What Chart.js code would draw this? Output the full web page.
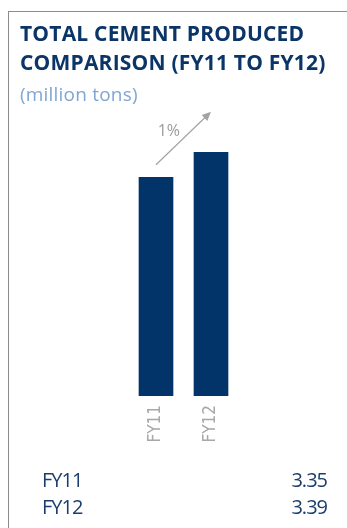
<!DOCTYPE html>
<html>
<head>
<meta charset="utf-8">
<script src="https://cdn.jsdelivr.net/npm/chart.js@4"></script>
<style>
  html, body { margin: 0; padding: 0; background: #ffffff; }
  body { width: 347px; height: 528px; position: relative; overflow: hidden; font-family: "Open Sans", sans-serif; }
  #frame { position: absolute; left: 8px; top: 11px; right: -2px; bottom: -2px; border-left: 1.5px solid #8c8c8c; border-top: 1.5px solid #8c8c8c; }
  #title { position: absolute; left: 20px; top: 19px; margin: 0; font-weight: 700; font-size: 21px; letter-spacing: 0.2px; line-height: 29px; color: #0b3467; white-space: nowrap; }
  #subtitle { position: absolute; left: 20px; top: 81px; font-size: 19px; letter-spacing: 0.2px; line-height: 26px; color: #7fa6d4; }
  #chartBox { position: absolute; left: 0; top: 0; width: 347px; height: 528px; }
  #table { position: absolute; left: 42px; top: 466px; width: 285px; }
  .row { display: flex; justify-content: space-between; font-size: 20px; line-height: 27px; color: #1b3d6d; letter-spacing: -1px; }
</style>
</head>
<body>
<div id="frame"></div>
<div id="chartBox"><canvas id="chart" width="347" height="528"></canvas></div>
<h1 id="title">TOTAL CEMENT PRODUCED<br>COMPARISON (FY11 TO FY12)</h1>
<div id="subtitle">(million tons)</div>
<div id="table"></div>
<script>
// Fiscal years and total cement produced (million tons)
const categories = ["FY11", "FY12"];
const cementProduced = [3.35, 3.39];
const valueLabels = ["3.35", "3.39"];

// value table under the chart
const table = document.getElementById("table");
categories.forEach((cat, i) => {
  const row = document.createElement("div");
  row.className = "row";
  const a = document.createElement("span");
  a.textContent = cat;
  const b = document.createElement("span");
  b.textContent = valueLabels[i];
  row.appendChild(a);
  row.appendChild(b);
  table.appendChild(row);
});

// growth arrow between the two bar tops with a percentage label
const growthArrow = {
  id: "growthArrow",
  afterDatasetsDraw(chart) {
    const x = chart.scales.x, y = chart.scales.y, ctx = chart.ctx;
    const x0 = x.getPixelForValue(0), x1 = x.getPixelForValue(1);
    const y0 = y.getPixelForValue(cementProduced[0]) - 12.5;
    const y1 = y.getPixelForValue(cementProduced[1]) - 40.5;
    const ang = Math.atan2(y1 - y0, x1 - x0);
    const head = 9, half = 4;
    ctx.save();
    ctx.strokeStyle = "#a3a3a3";
    ctx.fillStyle = "#a3a3a3";
    ctx.lineWidth = 1.2;
    ctx.beginPath();
    ctx.moveTo(x0, y0);
    ctx.lineTo(x1 - Math.cos(ang) * head * 0.8, y1 - Math.sin(ang) * head * 0.8);
    ctx.stroke();
    const bx = x1 - Math.cos(ang) * head, by = y1 - Math.sin(ang) * head;
    ctx.beginPath();
    ctx.moveTo(x1, y1);
    ctx.lineTo(bx + Math.sin(ang) * half, by - Math.cos(ang) * half);
    ctx.lineTo(bx - Math.sin(ang) * half, by + Math.cos(ang) * half);
    ctx.closePath();
    ctx.fill();
    const pct = Math.round((cementProduced[1] - cementProduced[0]) / cementProduced[0] * 100);
    ctx.fillStyle = "#9b9b9b";
    ctx.font = "16px 'Open Sans', sans-serif";
    ctx.textAlign = "right";
    ctx.textBaseline = "alphabetic";
    ctx.fillText(pct + "%", (x0 + x1) / 2 - 3.5, (y0 + y1) / 2 - 2.3);
    ctx.restore();
  }
};

new Chart(document.getElementById("chart"), {
  type: "bar",
  data: {
    labels: categories,
    datasets: [{
      data: cementProduced,
      backgroundColor: "#02346a",
      borderWidth: 0,
      barThickness: 34
    }]
  },
  options: {
    responsive: false,
    animation: false,
    events: [],
    layout: { padding: { left: 128.5, right: 108.5, top: 146, bottom: 0 } },
    plugins: { legend: { display: false }, tooltip: { enabled: false } },
    scales: {
      x: {
        grid: { display: false, drawTicks: false },
        border: { display: false },
        ticks: {
          minRotation: 90,
          maxRotation: 90,
          padding: 9,
          color: "#a8a8a8",
          font: { family: "'Liberation Sans Narrow', 'DejaVu Sans Condensed', sans-serif", size: 17 }
        },
        afterFit(scale) { scale.height = 132; }
      },
      y: {
        display: false,
        min: 3,
        max: 3.4
      }
    }
  },
  plugins: [growthArrow]
});
</script>
</body>
</html>
